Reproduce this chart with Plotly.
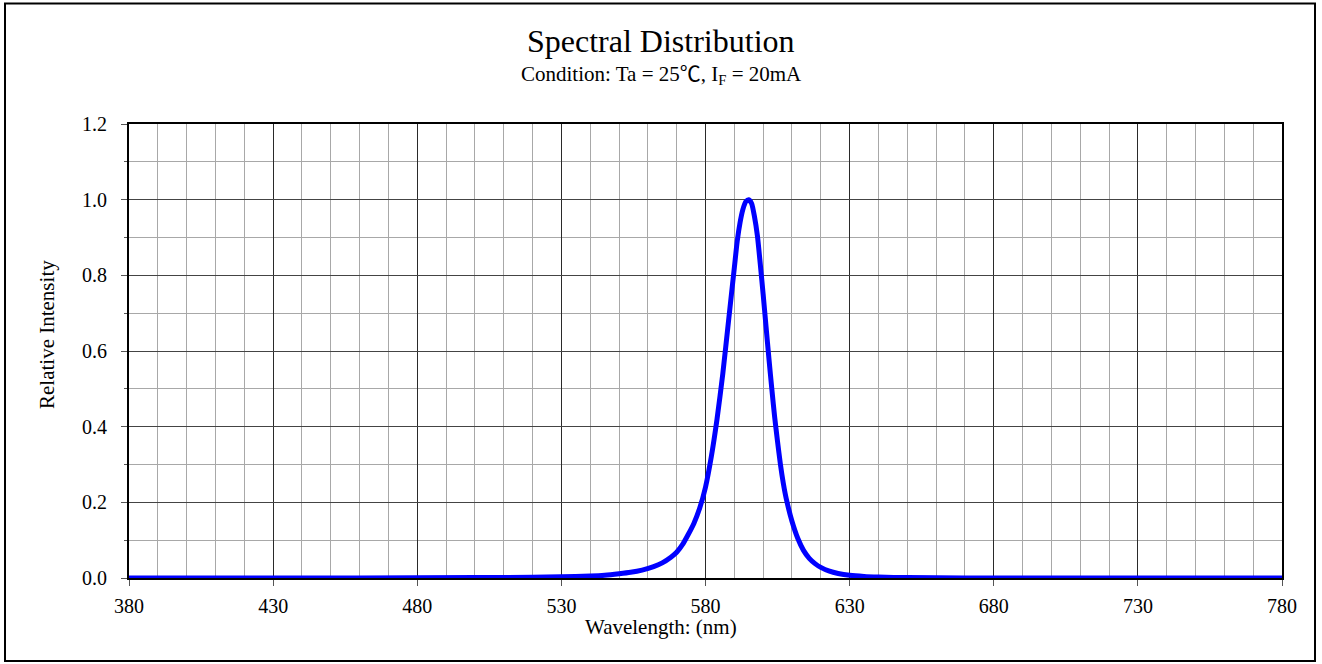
import plotly.graph_objects as go

# ---- data ----
wavelength_nm = [380, 420, 460, 500, 520, 530, 540, 545, 550, 554, 558, 562, 565, 568, 570,
                 572, 574, 576, 578, 580, 582, 584, 586, 588, 590, 591, 592, 593, 594, 595,
                 596, 597, 598, 599, 600, 601, 602, 603, 604, 605, 606, 607, 608, 610, 612,
                 614, 616, 618, 620, 623, 626, 630, 635, 640, 650, 670, 700, 780]
relative_intensity = [0, 0, 0, 0.001, 0.002, 0.003, 0.005, 0.007, 0.011, 0.015, 0.021, 0.03, 0.04,
                      0.055, 0.068, 0.088, 0.115, 0.145, 0.185, 0.24, 0.32, 0.42, 0.54, 0.68,
                      0.82, 0.89, 0.94, 0.975, 0.995, 1.0,
                      0.99, 0.955, 0.905, 0.83, 0.75, 0.665, 0.58, 0.5, 0.425, 0.36, 0.3,
                      0.25, 0.21, 0.15, 0.105, 0.073, 0.052, 0.038, 0.028, 0.018, 0.012,
                      0.007, 0.004, 0.0025, 0.001, 0.0003, 0, 0]

x_ticks = [380, 430, 480, 530, 580, 630, 680, 730, 780]
y_ticks = [0.0, 0.2, 0.4, 0.6, 0.8, 1.0, 1.2]
y_tick_labels = ["0.0", "0.2", "0.4", "0.6", "0.8", "1.0", "1.2"]

title_text = "Spectral Distribution"
subtitle_text = ("Condition: Ta = 25<span style=\"font-family:'Noto Sans CJK SC'\">\u2103</span>, "
                 "I<sub>F</sub> = 20mA")
x_title = "Wavelength: (nm)"
y_title = "Relative Intensity"

FONT = "Liberation Serif, Times New Roman, serif"

W, H = 1322, 664
L, R, T, B = 129, 40, 124, 86
ph = H - T - B
pw = W - L - R


def py(pix):
    return (H - B - pix) / ph


def px(pix):
    return (pix - L) / pw


fig = go.Figure()
fig.add_trace(go.Scatter(
    x=wavelength_nm, y=relative_intensity, mode="lines",
    line=dict(color="#0000FF", width=5, shape="spline", smoothing=0.6),
    hoverinfo="x+y", showlegend=False,
))

fig.update_layout(
    width=W, height=H,
    margin=dict(l=L, r=R, t=T, b=B, pad=0),
    paper_bgcolor="white", plot_bgcolor="white",
    font=dict(family=FONT, size=20, color="black"),
    showlegend=False,
)

fig.update_xaxes(
    range=[380, 780], tickvals=x_ticks, ticktext=[str(v) for v in x_ticks],
    showgrid=True, gridcolor="#2a2a2a", gridwidth=1,
    minor=dict(dtick=10, tick0=380, showgrid=True, gridcolor="#a8a8a8", gridwidth=1, ticks=""),
    ticks="outside", ticklen=6, tickcolor="#555555", tickwidth=1,
    showline=True, linecolor="black", linewidth=2, mirror=True,
    zeroline=False, layer="below traces",
    ticklabelstandoff=3,
    tickfont=dict(family=FONT, size=20),
)
fig.update_yaxes(
    range=[0, 1.2], tickvals=y_ticks, ticktext=y_tick_labels,
    showgrid=True, gridcolor="#444444", gridwidth=1,
    minor=dict(dtick=0.1, tick0=0, showgrid=True, gridcolor="#a8a8a8", gridwidth=1,
               ticks="outside", ticklen=3, tickcolor="#555555"),
    ticks="outside", ticklen=6, tickcolor="#555555", tickwidth=1,
    showline=True, linecolor="black", linewidth=2, mirror=True,
    zeroline=False, layer="below traces",
    ticklabelstandoff=10,
    tickfont=dict(family=FONT, size=20),
)

annotations = [
    dict(text=title_text, x=px(661), y=py(41), xref="paper", yref="paper",
         xanchor="center", yanchor="middle", showarrow=False,
         font=dict(family=FONT, size=32, color="black")),
    dict(text=subtitle_text, x=px(661), y=py(73), xref="paper", yref="paper",
         xanchor="center", yanchor="middle", showarrow=False,
         font=dict(family=FONT, size=21, color="black")),
    dict(text=x_title, x=px(661), y=py(627), xref="paper", yref="paper",
         xanchor="center", yanchor="middle", showarrow=False,
         font=dict(family=FONT, size=21, color="black")),
    dict(text=y_title, x=px(47), y=py(335), xref="paper", yref="paper",
         xanchor="center", yanchor="middle", showarrow=False, textangle=-90,
         font=dict(family=FONT, size=21, color="black")),
]
fig.update_layout(annotations=annotations)

# outer figure frame
fig.add_shape(type="rect", xref="paper", yref="paper",
              x0=px(5), x1=px(1315), y0=py(661), y1=py(3.5),
              line=dict(color="black", width=2), fillcolor="rgba(0,0,0,0)", layer="above")

fig.write_html("out.html", config={"displayModeBar": False},
               post_script="document.body.style.margin='0';")
